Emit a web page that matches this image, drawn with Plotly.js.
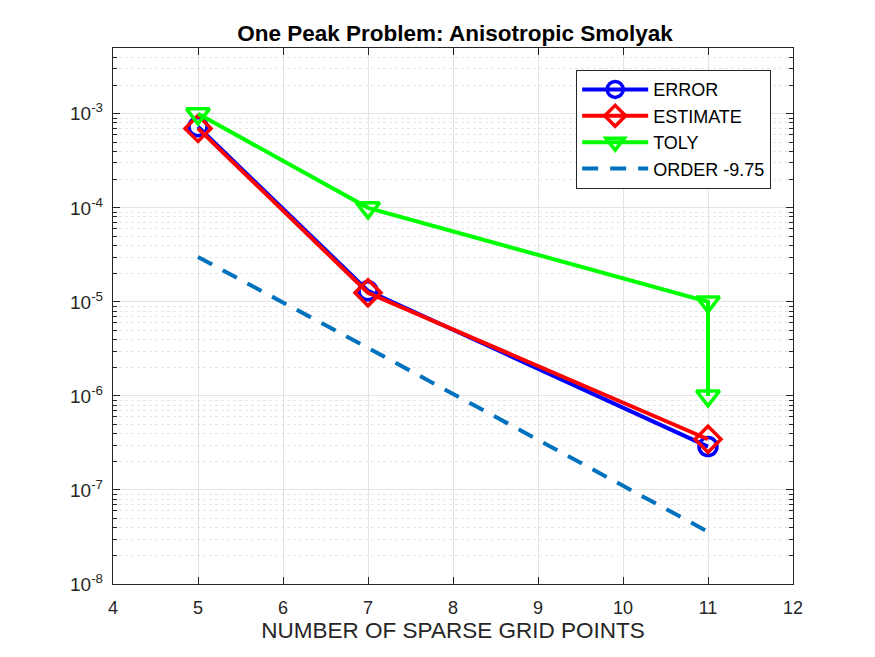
<!DOCTYPE html>
<html>
<head>
<meta charset="utf-8">
<script src="https://cdn.plot.ly/plotly-3.0.1.min.js"></script>
<style>html,body{margin:0;padding:0;background:#fff;}#chart{width:875px;height:657px;}</style>
</head>
<body>
<div id="chart"></div>
<script>
const xPts = [5, 7, 11];
const errorVals = [7.3e-4, 1.31e-5, 2.89e-7];
const estimateVals = [7.0e-4, 1.25e-5, 3.46e-7];
const tolyX = [5, 7, 11, 11];
const tolyVals = [1e-3, 1e-4, 1e-5, 1e-6];
const orderVals = [3.0e-5, 3.24e-6, 3.6e-8];
const yTickVals = [1e-8, 1e-7, 1e-6, 1e-5, 1e-4, 1e-3];
const yTickText = ['10<sup>-8</sup>','10<sup>-7</sup>','10<sup>-6</sup>','10<sup>-5</sup>','10<sup>-4</sup>','10<sup>-3</sup>'];
const xTickVals = [4,5,6,7,8,9,10,11,12];

const FF = 'Liberation Sans, Arial, sans-serif';
const font = {family: FF, color: '#262626'};

const traces = [
  {x: xPts, y: errorVals, name: 'ERROR', mode: 'lines+markers',
   line: {color: '#0000ff', width: 4},
   marker: {symbol: 'circle-open', size: 18, color: '#0000ff', line: {width: 3.5, color: '#0000ff'}}},
  {x: xPts, y: estimateVals, name: 'ESTIMATE', mode: 'lines+markers',
   line: {color: '#ff0000', width: 4},
   marker: {symbol: 'diamond-open', size: 20, color: '#ff0000', line: {width: 3.5, color: '#ff0000'}}},
  {x: tolyX, y: tolyVals, name: 'TOLY', mode: 'lines+markers',
   line: {color: '#00ff00', width: 4},
   marker: {symbol: 'triangle-down-open', size: 20, color: '#00ff00', line: {width: 3.5, color: '#00ff00'}}},
  {x: xPts, y: orderVals, name: 'ORDER -9.75', mode: 'lines',
   line: {color: '#0072bd', width: 4, dash: '16px,12px'}}
];

const layout = {
  width: 875, height: 657,
  margin: {l: 113, r: 82, t: 48, b: 73},
  paper_bgcolor: '#ffffff', plot_bgcolor: '#ffffff',
  font: font,
  showlegend: true,
  title: {text: '<b>One Peak Problem: Anisotropic Smolyak</b>', x: 0.52, xanchor: 'center', y: 0.95, yanchor: 'middle',
          font: {family: FF, size: 22.5, color: '#000000'}},
  xaxis: {
    range: [4, 12], tickvals: xTickVals, ticks: 'inside', ticklen: 7, tickwidth: 1, tickcolor: '#262626',
    showline: true, linecolor: '#262626', linewidth: 1.2, mirror: 'ticks',
    showgrid: true, gridcolor: '#e3e3e3', gridwidth: 1, zeroline: false,
    ticklabelstandoff: 7,
    tickfont: {size: 18, family: FF, color: '#262626'},
    title: {text: 'NUMBER OF SPARSE GRID POINTS', standoff: 5, font: {size: 22.5, family: FF, color: '#262626'}}
  },
  yaxis: {
    type: 'log', range: [-8, -2.3], tickvals: yTickVals, ticktext: yTickText,
    ticks: 'inside', ticklen: 7, tickwidth: 1, tickcolor: '#262626',
    showline: true, linecolor: '#262626', linewidth: 1.2, mirror: 'ticks',
    showgrid: true, gridcolor: '#e3e3e3', gridwidth: 1, zeroline: false,
    ticklabelstandoff: 5,
    tickfont: {size: 19, family: FF, color: '#262626'},
    minor: {dtick: 'D1', ticks: 'inside', ticklen: 4, tickcolor: '#262626', showgrid: true, gridcolor: '#e6e6e6', griddash: 'dot', gridwidth: 1}
  },
  legend: {
    x: 0.9676, xanchor: 'right', y: 0.959, yanchor: 'top',
    bgcolor: '#ffffff', bordercolor: '#262626', borderwidth: 1.2,
    font: {size: 18, family: FF, color: '#000000'},
    tracegroupgap: 0, itemwidth: 66
  }
};

Plotly.newPlot('chart', traces, layout, {displayModeBar: false, staticPlot: true});
</script>
</body>
</html>
